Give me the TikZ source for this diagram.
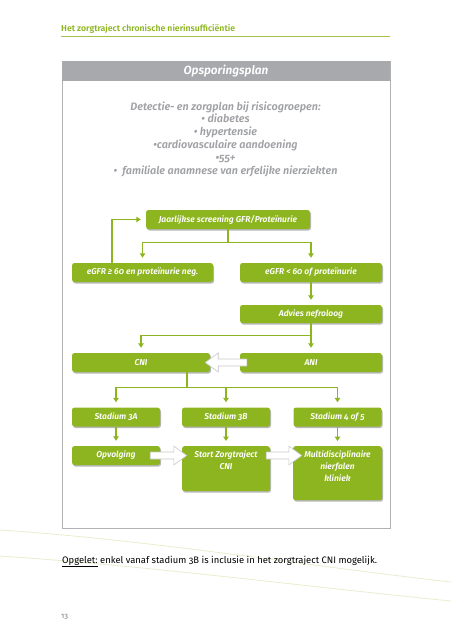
\documentclass[tikz,border=0pt]{standalone}
\usepackage{fontspec}
\setmainfont{Fira Sans}[Numbers=OldStyle]
\newfontfamily\semifont{Fira Sans SemiBold}[Numbers=OldStyle, ItalicFont={Fira Sans SemiBold Italic}]
\usetikzlibrary{arrows.meta,shadows,calc}

\definecolor{zgreen}{RGB}{141,181,32}
\definecolor{zline}{RGB}{160,194,70}
\definecolor{zgrey}{RGB}{168,169,173}
\definecolor{ztext}{RGB}{160,161,165}
\definecolor{zswoosh}{RGB}{233,236,205}

\def\rijhoogte{19pt}

\tikzset{
  stap/.style={fill=zgreen, rounded corners=2.5pt, text=white,
    font=\semifont\itshape\fontsize{8.5}{12}\selectfont, inner sep=0pt,
    minimum height=\rijhoogte,
    drop shadow={shadow xshift=1pt, shadow yshift=-1.5pt, opacity=.4, fill=black!70}},
  lijn/.style={draw=zgreen, line width=1.3pt},
  flow/.style={lijn, shorten >=5pt, -{Triangle[length=4.5pt,width=5.5pt]}},
  dik/.style={fill=white, draw=black!22, line width=.6pt, line join=miter},
}

% brede witte pijl van #1 naar #2 (horizontaal)
\newcommand{\dikkepijl}[2]{%
  \filldraw[dik] ($(#1)+(0,-3.5)$) -- ($(#2)!13pt!(#1)+(0,-3.5)$)
    -- ($(#2)!13pt!(#1)+(0,-9.5)$) -- (#2) -- ($(#2)!13pt!(#1)+(0,9.5)$)
    -- ($(#2)!13pt!(#1)+(0,3.5)$) -- ($(#1)+(0,3.5)$) -- cycle;}

\begin{document}
\begin{tikzpicture}[x=1pt, y=-1pt]
    \useasboundingbox (0,0) rectangle (451,640);
    % achtergrond
    \draw[zswoosh, line width=.8pt] (0,530) .. controls (150,540) and (300,565) .. (451,582);
    \draw[zswoosh, line width=.8pt] (0,556) .. controls (150,566) and (300,586) .. (451,601);

    % kop van de pagina
    \node[anchor=base west, text=zgreen, inner sep=0pt,
      font=\semifont\fontsize{8.7}{10}\selectfont] (kop) at (61,31)
      {Het zorgtraject chronische nierinsufficiëntie};
    \draw[zline, line width=.8pt] (61,36) -- (390,36);

    % kader
    \draw[black!30, line width=.9pt] (62,61) rectangle (390,528);
    \fill[zgrey] (62,61) rectangle (390,81);
    \node[text=white, font=\semifont\itshape\fontsize{11.8}{13}\selectfont] (titel) at (226,71) {Opsporingsplan};
    \node[text=ztext, align=center, font=\semifont\itshape\fontsize{10.8}{12.8}\selectfont] (risico) at (225.5,139)
      {Detectie- en zorgplan bij risicogroepen:\\
       • diabetes\\
       • hypertensie\\
       •cardiovasculaire aandoening\\
       •55+\\
       •\ \ familiale anamnese van erfelijke nierziekten};

    % bovenste deel
    \node[stap, minimum width=164pt] (jaar) at (228,219.5) {Jaarlijkse screening GFR/Proteïnurie};
    \node[stap, minimum width=141pt] (ok) at (142.5,272.5) {eGFR ≥ 60 en proteïnurie neg.};
    \node[stap, minimum width=142pt] (nok) at (311,272.5) {eGFR < 60 of proteïnurie};
    \node[stap, minimum width=142pt, minimum height=18pt] (advies) at (311,314) {Advies nefroloog};
    \node[stap, minimum width=138pt] (cni) at (141,362.5) {CNI};
    \node[stap, minimum width=142pt] (ani) at (311,362.5) {ANI};

    \draw[flow] ([xshift=-30.5pt]ok.north) |- (jaar.west);
    \draw[lijn] (jaar.south) -- ++(0,13.5) coordinate (s1);
    \draw[flow] (s1) -| (ok.north);
    \draw[flow] (s1) -| (nok.north);
    \draw[flow] (nok) -- (advies);
    \draw[lijn] (advies.south) -- ++(0,12) coordinate (s2);
    \draw[flow] (s2) -| (cni.north);
    \draw[flow] (s2) -- (ani.north);
    \coordinate (p1) at ([xshift=7pt]ani.west);
    \coordinate (p2) at ([xshift=-5pt]cni.east);
    \dikkepijl{p1}{p2}

    % stadia
    \foreach \naam/\x/\tekst in {st3a/116/Stadium 3A, st3b/226/Stadium 3B, st45/337.5/Stadium 4 of 5} {
      \node[stap, minimum width=88pt] (\naam) at (\x,417) {\tekst};
    }
    \node[stap, minimum width=88pt] (opv) at (116,455.5) {Opvolging};
    \node[stap, anchor=north] (start) at (226,446)
      {\parbox[t][45pt][t]{88pt}{\centering\rule{0pt}{11pt}Start Zorgtraject\\CNI}};
    \node[stap, anchor=north] (multi) at (337.5,446)
      {\parbox[t][54pt][t]{89pt}{\centering\rule{0pt}{11pt}Multidisciplinaire\\nierfalen\\kliniek}};

    \draw[lijn] ([xshift=46pt]cni.south) -- ++(0,15) coordinate (s3);
    \foreach \naam in {st3a,st3b,st45} {
      \draw[flow] (s3) -| (\naam.north);
    }
    \draw[flow] (st3a) -- (opv);
    \draw[flow] (st3b) -- (start);
    \draw[flow] (st45) -- (multi);
    \coordinate (p3) at ([xshift=-10pt]opv.east);
    \coordinate (p4) at ([xshift=5pt]opv.east -| start.west);
    \coordinate (p5) at ([xshift=-4pt]opv.east -| start.east);
    \coordinate (p6) at ([xshift=9pt]opv.east -| multi.west);
    \dikkepijl{p3}{p4}
    \dikkepijl{p5}{p6}

    % opmerking en paginanummer
    \node[anchor=base west, inner sep=0pt, font=\fontsize{9.4}{11}\selectfont] (noot) at (62,563)
      {\underline{Opgelet:} enkel vanaf stadium 3B is inclusie in het zorgtraject CNI mogelijk.};
    \node[anchor=base west, inner sep=0pt, text=black!55, font=\fontsize{7.5}{8}\selectfont] (pagina) at (61,618) {13};
\end{tikzpicture}
\end{document}
